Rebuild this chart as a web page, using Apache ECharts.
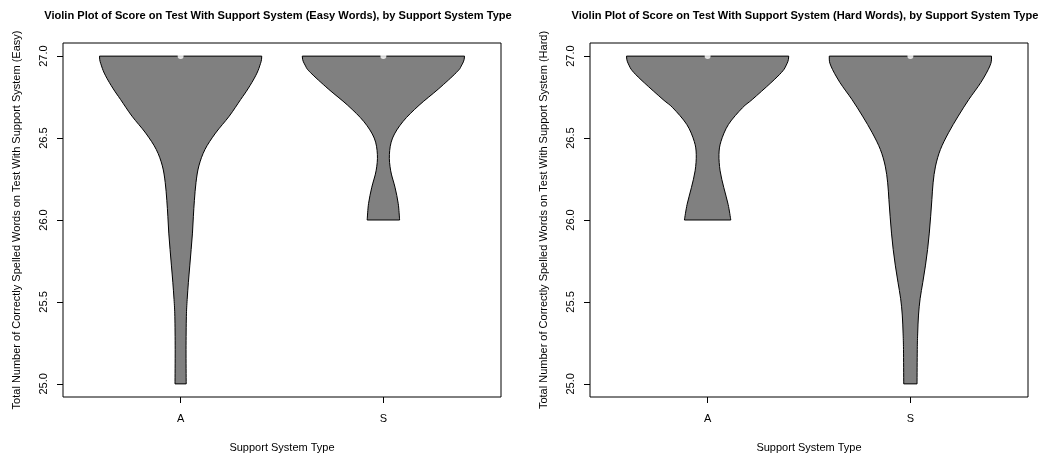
<!DOCTYPE html>
<html>
<head>
<meta charset="utf-8">
<script src="https://cdn.jsdelivr.net/npm/echarts@6/dist/echarts.min.js"></script>
<style>
html,body{margin:0;padding:0;background:#fff;}
#chart{width:1054px;height:453px;}
</style>
</head>
<body>
<div id="chart"></div>
<script>
// ---- data ----
const categories = ['A', 'S'];
const yTickValues = [25.0, 25.5, 26.0, 26.5, 27.0];
const titleEasy = 'Violin Plot of Score on Test With Support System (Easy Words), by Support System Type';
const titleHard = 'Violin Plot of Score on Test With Support System (Hard Words), by Support System Type';
const yNameEasy = 'Total Number of Correctly Spelled Words on Test With Support System (Easy)';
const yNameHard = 'Total Number of Correctly Spelled Words on Test With Support System (Hard)';
const xName = 'Support System Type';

// violin outlines: score level and relative half-width (1 = widest)
const easyA_score = [27.0, 26.94, 26.88, 26.8, 26.735, 26.634, 26.53, 26.43, 26.33, 26.23, 26.12, 26.02, 25.92, 25.82, 25.72, 25.62, 25.515, 25.41, 25.21, 25.0];
const easyA_width = [1.0, 0.975, 0.925, 0.83, 0.74, 0.60, 0.43, 0.30, 0.225, 0.19, 0.17, 0.157, 0.146, 0.13, 0.113, 0.096, 0.081, 0.071, 0.067, 0.069];

const easyS_score = [27.0, 26.94, 26.9, 26.8, 26.7, 26.6, 26.5, 26.4, 26.3, 26.2, 26.1, 26.0];
const easyS_width = [1.0, 0.96, 0.90, 0.68, 0.44, 0.24, 0.113, 0.074, 0.09, 0.143, 0.183, 0.20];

const hardA_score = [27.0, 26.94, 26.9, 26.837, 26.735, 26.685, 26.583, 26.48, 26.40, 26.30, 26.197, 26.095, 26.0];
const hardA_width = [1.0, 0.965, 0.91, 0.78, 0.55, 0.43, 0.257, 0.165, 0.14, 0.154, 0.20, 0.253, 0.286];

const hardS_score = [27.0, 26.94, 26.84, 26.735, 26.634, 26.532, 26.43, 26.329, 26.227, 26.125, 26.023, 25.92, 25.82, 25.72, 25.62, 25.52, 25.42, 25.31, 25.21, 25.0];
const hardS_width = [1.0, 0.98, 0.87, 0.72, 0.59, 0.47, 0.37, 0.31, 0.28, 0.265, 0.25, 0.233, 0.212, 0.185, 0.153, 0.12, 0.10, 0.09, 0.085, 0.082];

const medianEasy = [27, 27];
const medianHard = [27, 27];

// ---- drawing ----
const FONT = "'Liberation Sans', Arial, sans-serif";
const MAX_HALF = 0.4;

// smooth path through pts; tangent at pts[0] (top) vertical when startVertical, at end when endVertical
function catmull(pts, startVertical, endVertical) {
  let d = '';
  const n = pts.length;
  for (let i = 0; i < n - 1; i++) {
    const p0 = pts[Math.max(i - 1, 0)], p1 = pts[i], p2 = pts[i + 1], p3 = pts[Math.min(i + 2, n - 1)];
    let c1 = [p1[0] + (p2[0] - p0[0]) / 6, p1[1] + (p2[1] - p0[1]) / 6];
    let c2 = [p2[0] - (p3[0] - p1[0]) / 6, p2[1] - (p3[1] - p1[1]) / 6];
    if (i === 0 && startVertical) c1 = [p1[0], p1[1] + (p2[1] - p1[1]) / 2];
    if (i === n - 2 && endVertical) c2 = [p2[0], p2[1] + (p1[1] - p2[1]) / 2];
    d += ' C' + c1[0] + ',' + c1[1] + ' ' + c2[0] + ',' + c2[1] + ' ' + p2[0] + ',' + p2[1];
  }
  return d;
}

function violinSeries(gridIdx, catIdx, scores, widths) {
  return {
    type: 'custom',
    xAxisIndex: gridIdx,
    yAxisIndex: gridIdx,
    data: [[catIdx + 1, scores[0]]],
    encode: { x: 0, y: 1 },
    silent: true,
    z: 2,
    renderItem: function (params, api) {
      const c = catIdx + 1;
      const right = scores.map((s, i) => api.coord([c + widths[i] * MAX_HALF, s]));
      const left = scores.map((s, i) => api.coord([c - widths[i] * MAX_HALF, s])).reverse();
      let d = 'M' + right[0][0] + ',' + right[0][1];
      d += catmull(right, true, false);
      d += ' L' + left[0][0] + ',' + left[0][1];
      d += catmull(left, false, true);
      d += ' Z';
      return {
        type: 'path',
        shape: { pathData: d },
        style: { fill: '#808080', stroke: '#000', lineWidth: 1 }
      };
    }
  };
}

function medianSeries(gridIdx, med) {
  return {
    type: 'scatter',
    xAxisIndex: gridIdx,
    yAxisIndex: gridIdx,
    data: med.map((m, i) => [i + 1, m]),
    symbol: 'circle',
    symbolSize: 6,
    itemStyle: { color: '#fff', borderWidth: 0 },
    silent: true,
    z: 5
  };
}

function xAxisFor(gridIdx) {
  return {
    type: 'value', gridIndex: gridIdx, min: 0.42, max: 2.58,
    axisLine: { show: false },
    splitLine: { show: false },
    axisTick: { show: true, customValues: [1, 2], length: 6, inside: false, lineStyle: { color: '#000', width: 1 } },
    axisLabel: { customValues: [1, 2], formatter: v => categories[Math.round(v) - 1], color: '#000', fontSize: 11, fontFamily: FONT, margin: 16 },
    name: xName, nameLocation: 'middle', nameGap: 45,
    nameTextStyle: { color: '#000', fontSize: 11, fontFamily: FONT }
  };
}

function yAxisFor(gridIdx, name) {
  return {
    type: 'value', gridIndex: gridIdx, min: 24.92, max: 27.08,
    axisLine: { show: false },
    splitLine: { show: false },
    axisTick: { show: true, customValues: yTickValues, length: 6, inside: false, lineStyle: { color: '#000', width: 1 } },
    axisLabel: { customValues: yTickValues, formatter: v => v.toFixed(1), rotate: 90, color: '#000', fontSize: 11, fontFamily: FONT, margin: 14 },
    name: name, nameLocation: 'middle', nameGap: 41,
    nameTextStyle: { color: '#000', fontSize: 11, fontFamily: FONT }
  };
}

const chart = echarts.init(document.getElementById('chart'), null, { renderer: 'canvas' });
chart.setOption({
  backgroundColor: '#fff',
  animation: false,
  title: [
    { text: titleEasy, left: 273, top: 5, textAlign: 'center', textStyle: { fontSize: 11.1, fontWeight: 'bold', color: '#000', fontFamily: FONT } },
    { text: titleHard, left: 800, top: 5, textAlign: 'center', textStyle: { fontSize: 11.1, fontWeight: 'bold', color: '#000', fontFamily: FONT } }
  ],
  grid: [
    { left: 63, top: 43, width: 438, height: 354, show: true, borderColor: '#000', borderWidth: 1, backgroundColor: 'transparent', outerBoundsMode: 'none', containLabel: false },
    { left: 590, top: 43, width: 438, height: 354, show: true, borderColor: '#000', borderWidth: 1, backgroundColor: 'transparent', outerBoundsMode: 'none', containLabel: false }
  ],
  xAxis: [xAxisFor(0), xAxisFor(1)],
  yAxis: [yAxisFor(0, yNameEasy), yAxisFor(1, yNameHard)],
  series: [
    violinSeries(0, 0, easyA_score, easyA_width),
    violinSeries(0, 1, easyS_score, easyS_width),
    violinSeries(1, 0, hardA_score, hardA_width),
    violinSeries(1, 1, hardS_score, hardS_width),
    medianSeries(0, medianEasy),
    medianSeries(1, medianHard)
  ]
});
</script>
</body>
</html>
